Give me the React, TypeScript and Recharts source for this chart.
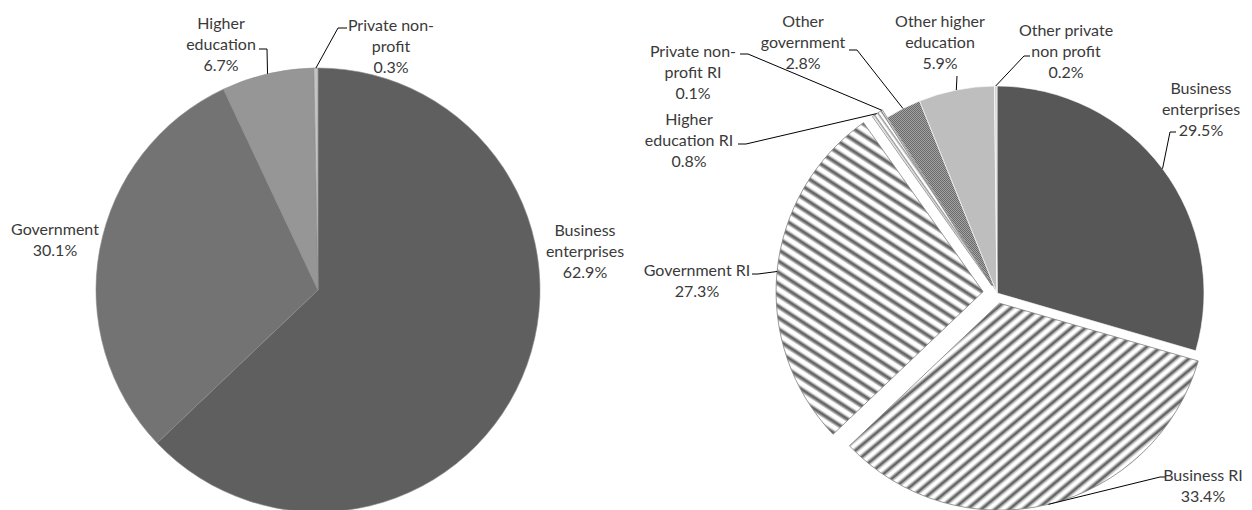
import React from "react";
import { PieChart, Pie, Cell } from "recharts";

// left pie: share of R&D by sector
const leftNames = ["Business\nenterprises", "Government", "Higher\neducation", "Private non-\nprofit"];
const leftValues = [62.9, 30.1, 6.7, 0.3];

// right pie: split into research institutes (RI) and others
const rightNames = [
  "Business\nenterprises",
  "Business RI",
  "Government RI",
  "Higher\neducation RI",
  "Private non-\nprofit RI",
  "Other\ngovernment",
  "Other higher\neducation",
  "Other private\nnon profit",
];
const rightValues = [29.5, 33.4, 27.3, 0.8, 0.1, 2.8, 5.9, 0.2];

const leftData = leftNames.map((name, i) => ({ name, value: leftValues[i] }));
const rightData = rightNames.map((name, i) => ({ name, value: rightValues[i] }));

const FONT = "Lato, 'Open Sans', sans-serif";
const FONT_SIZE = 16;
const LINE_H = 21;

const leftFills = ["#5f5f5f", "#737373", "#969696", "#c4c4c4"];
const rightFills = [
  "#575757",
  "url(#upDiag)",
  "url(#downDiag)",
  "url(#lightDiag)",
  "#ffffff",
  "url(#dither)",
  "#bebebe",
  "#d6d6d6",
];
const rightExplode = [0, 10.5, 14, 9, 9, 0, 0, 0];

type LabelPos = { x: number; y: number; leader?: number[][] };

const leftLabels: LabelPos[] = [
  { x: 585, y: 229 },
  { x: 55, y: 228 },
  { x: 221, y: 22, leader: [[267, 49], [259, 49]] },
  { x: 391, y: 24, leader: [[338, 28], [347, 28]] },
];

const rightLabels: LabelPos[] = [
  { x: 1201, y: 87, leader: [[1170, 132], [1176, 132]] },
  { x: 1203, y: 474, leader: [[1160, 477], [1166, 477]] },
  { x: 697, y: 269, leader: [[758, 274], [752, 274]] },
  { x: 689, y: 118, leader: [[746, 144], [738, 144]] },
  { x: 693, y: 50, leader: [[748, 54], [740, 54]] },
  { x: 803, y: 20, leader: [[857, 50], [849, 50]] },
  { x: 940, y: 20, leader: [[957, 76]] },
  { x: 1066, y: 29, leader: [[1024, 56], [1030, 56]] },
];

const RAD = Math.PI / 180;

function makeLabel(names: string[], values: number[], layout: LabelPos[], explode?: number[]) {
  return (props: any) => {
    const { cx, cy, midAngle, outerRadius, index } = props;
    const pos = layout[index];
    const r = outerRadius + (explode ? explode[index] : 0);
    const sx = cx + r * Math.cos(midAngle * RAD);
    const sy = cy - r * Math.sin(midAngle * RAD);
    const lines = [...names[index].split("\n"), `${values[index].toFixed(1)}%`];
    return (
      <g key={`lbl-${index}`}>
        {pos.leader && (
          <polyline
            points={[[sx, sy], ...pos.leader].map((p) => p.join(",")).join(" ")}
            fill="none"
            stroke="#000"
            strokeWidth={1}
          />
        )}
        <text textAnchor="middle" fill="#3a3a3a" fontFamily={FONT} fontSize={FONT_SIZE}>
          {lines.map((t, i) => (
            <tspan key={i} x={pos.x} y={pos.y + i * LINE_H} dominantBaseline="central">
              {t}
            </tspan>
          ))}
        </text>
      </g>
    );
  };
}

// mid angle of each slice in recharts degrees (clockwise from 12 o'clock)
function midAngles(values: number[]) {
  const total = values.reduce((a, b) => a + b, 0);
  let cum = 0;
  return values.map((v) => {
    const m = 90 - ((cum + v / 2) / total) * 360;
    cum += v;
    return m;
  });
}

const LCX = 318, LCY = 290, LR = 222;
const RCX = 997, RCY = 293, RR = 207;

export default function App() {
  const mids = midAngles(rightValues);
  return (
    <div style={{ position: "absolute", left: 0, top: 0, width: 1252, height: 510, background: "#fff" }}>
      <svg width={0} height={0} style={{ position: "absolute" }}>
        <defs>
          <pattern id="upDiag" patternUnits="userSpaceOnUse" width={9} height={9} patternTransform="rotate(-40)">
            <rect width={9} height={9} fill="#ffffff" />
            <rect y={1.5} width={9} height={1} fill="#b0b0b0" />
            <rect y={2.5} width={9} height={3} fill="#666666" />
            <rect y={5.5} width={9} height={1} fill="#b0b0b0" />
          </pattern>
          <pattern id="downDiag" patternUnits="userSpaceOnUse" width={9.5} height={9.5} patternTransform="rotate(33)">
            <rect width={9.5} height={9.5} fill="#ffffff" />
            <rect y={1.5} width={9.5} height={1} fill="#b0b0b0" />
            <rect y={2.5} width={9.5} height={3} fill="#666666" />
            <rect y={5.5} width={9.5} height={1} fill="#b0b0b0" />
          </pattern>
          <pattern id="lightDiag" patternUnits="userSpaceOnUse" width={4} height={4} patternTransform="rotate(55)">
            <rect width={4} height={4} fill="#ffffff" />
            <rect y={1} width={4} height={1.5} fill="#9a9a9a" />
          </pattern>
          <pattern id="dither" patternUnits="userSpaceOnUse" width={2} height={2}>
            <rect width={2} height={2} fill="#a3a3a3" />
            <rect width={1} height={1} fill="#6a6a6a" />
            <rect x={1} y={1} width={1} height={1} fill="#6a6a6a" />
          </pattern>
        </defs>
      </svg>
      <PieChart width={1252} height={510} margin={{ top: 0, right: 0, bottom: 0, left: 0 }}>
        <Pie
          data={leftData}
          dataKey="value"
          nameKey="name"
          cx={LCX}
          cy={LCY}
          outerRadius={LR}
          startAngle={90}
          endAngle={-270}
          isAnimationActive={false}
          labelLine={false}
          label={makeLabel(leftNames, leftValues, leftLabels)}
        >
          {leftData.map((d, i) => (
            <Cell key={d.name} fill={leftFills[i]} stroke="#8c8c8c" strokeWidth={0.6} />
          ))}
        </Pie>

        {/* right pie: slices that stay in place, plus the labels */}
        <Pie
          data={rightData}
          dataKey="value"
          nameKey="name"
          cx={RCX}
          cy={RCY}
          outerRadius={RR}
          startAngle={90}
          endAngle={-270}
          isAnimationActive={false}
          labelLine={false}
          label={makeLabel(rightNames, rightValues, rightLabels, rightExplode)}
        >
          {rightData.map((d, i) =>
            rightExplode[i] > 0 ? (
              <Cell key={d.name} fill="none" stroke="none" />
            ) : (
              <Cell key={d.name} fill={rightFills[i]} stroke="#ffffff" strokeWidth={0.6} />
            )
          )}
        </Pie>

        {/* exploded RI slices, each pie shifted along its slice's mid angle */}
        {rightExplode.map((off, k) =>
          off > 0 ? (
            <Pie
              key={`ex-${k}`}
              data={rightData}
              dataKey="value"
              nameKey="name"
              cx={RCX + off * Math.cos(mids[k] * RAD)}
              cy={RCY - off * Math.sin(mids[k] * RAD)}
              outerRadius={RR}
              startAngle={90}
              endAngle={-270}
              isAnimationActive={false}
              labelLine={false}
              label={false}
            >
              {rightData.map((d, i) =>
                i === k ? (
                  <Cell key={d.name} fill={rightFills[i]} stroke="#808080" strokeWidth={0.8} />
                ) : (
                  <Cell key={d.name} fill="none" stroke="none" />
                )
              )}
            </Pie>
          ) : null
        )}
      </PieChart>
    </div>
  );
}
